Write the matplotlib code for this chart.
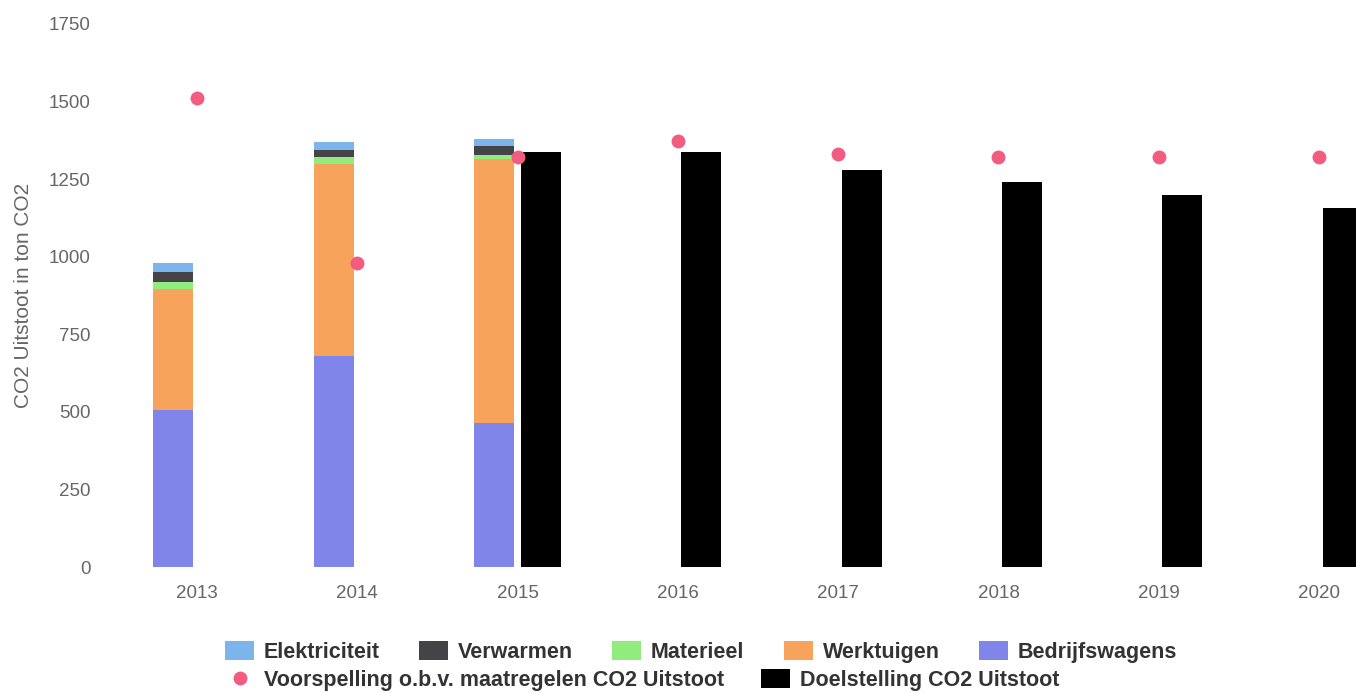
import matplotlib
matplotlib.use("Agg")
import matplotlib.pyplot as plt
import numpy as np
from matplotlib.patches import Patch
from matplotlib.lines import Line2D

years = ["2013", "2014", "2015", "2016", "2017", "2018", "2019", "2020"]
stack_years = ["2013", "2014", "2015"]
bedrijfswagens = [506, 680, 464]
werktuigen = [390, 619, 851]
materieel = [22, 23, 13]
verwarmen = [32, 23, 30]
elektriciteit = [30, 26, 21]
doel_years = ["2015", "2016", "2017", "2018", "2019", "2020"]
doelstelling = [1337, 1337, 1279, 1241, 1199, 1157]
voorspelling = [1512, 981, 1320, 1372, 1330, 1321, 1320, 1320]

stack_series = [
    ("Bedrijfswagens", bedrijfswagens, "#8085e9"),
    ("Werktuigen", werktuigen, "#f7a35c"),
    ("Materieel", materieel, "#90ed7d"),
    ("Verwarmen", verwarmen, "#434348"),
    ("Elektriciteit", elektriciteit, "#7cb5ec"),
]

plt.rcParams["font.family"] = ["Liberation Sans", "DejaVu Sans"]

fig = plt.figure(figsize=(13.56, 6.93), dpi=100)
ax = fig.add_axes([117 / 1356, 1 - 567 / 693, 1 - 117 / 1356, (567 - 24) / 693])

x = np.arange(len(years))
idx = {y: i for i, y in enumerate(years)}
bw = 0.25
off = 0.147

xs = np.array([idx[y] for y in stack_years]) - off
bottom = np.zeros(len(stack_years))
for name, vals, col in stack_series:
    ax.bar(xs, vals, bw, bottom=bottom, color=col, linewidth=0, zorder=2)
    bottom += np.array(vals)

xd = np.array([idx[y] for y in doel_years]) + off
ax.bar(xd, doelstelling, bw, color="black", linewidth=0, zorder=2)

ax.scatter(x, voorspelling, s=100, color="#f15c80", linewidths=0, zorder=3, clip_on=False)

ax.set_xlim(-0.499, (1356 - 197) / 160.3)
ax.set_ylim(0, 1750)
ax.set_yticks(np.arange(0, 1751, 250))
ax.set_xticks(x)
ax.set_xticklabels(years)
for s in ax.spines.values():
    s.set_visible(False)
ax.tick_params(axis="both", length=0, labelsize=13.5, colors="#666666")
ax.tick_params(axis="y", pad=19)
ax.tick_params(axis="x", pad=13)
ax.set_ylabel("CO2 Uitstoot in ton CO2", fontsize=15, color="#666666")
ax.yaxis.set_label_coords(-(117 - 33) / 1239, 0.5)

fs = 15.5
fpx = fs * 100 / 72
lfont = {"size": fs, "weight": "bold"}
lkw = dict(frameon=False, prop=lfont, borderpad=0, borderaxespad=0,
           handlelength=29 / fpx, handleheight=21 / fpx, handletextpad=10 / fpx,
           loc="center left")
h1 = [Patch(color=c, linewidth=0) for _, _, c in stack_series[::-1]]
l1 = [n for n, _, _ in stack_series[::-1]]
leg1 = fig.legend(h1, l1, bbox_to_anchor=(225 / 1356, 1 - 652 / 693), ncol=5,
                  columnspacing=39 / fpx, **lkw)
for t in leg1.get_texts():
    t.set_color("#333333")
h2 = [Line2D([], [], marker="o", linestyle="none", markersize=10, color="#f15c80", markeredgewidth=0),
      Patch(color="black", linewidth=0)]
l2 = ["Voorspelling o.b.v. maatregelen CO2 Uitstoot", "Doelstelling CO2 Uitstoot"]
leg2 = fig.legend(h2, l2, bbox_to_anchor=(225 / 1356, 1 - 680 / 693), ncol=2,
                  columnspacing=37 / fpx, **lkw)
for t in leg2.get_texts():
    t.set_color("#333333")

fig.savefig("out.png", dpi=100)
